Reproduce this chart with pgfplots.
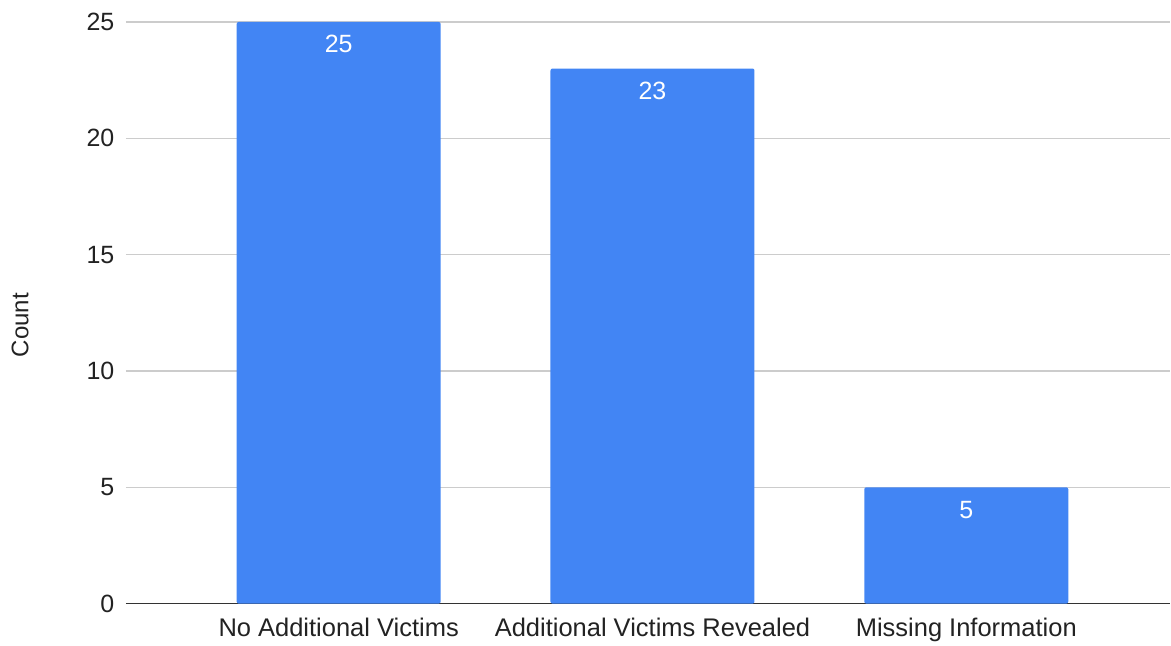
\documentclass[border=0pt]{standalone}
\usepackage{fontspec}
\setmainfont{Liberation Sans}
\usepackage{pgfplots}
\pgfplotsset{compat=1.18}
\definecolor{barblue}{HTML}{4285F4}
\definecolor{gridgray}{HTML}{CCCCCC}
\definecolor{axisgray}{HTML}{333333}
\definecolor{textgray}{HTML}{222222}
\begin{document}
\begin{tikzpicture}
\begin{axis}[
  scale only axis, width=1045pt, height=582pt,
  at={(0,0)}, anchor=south west,
  xmin=-0.678, xmax=2.65, ymin=0, ymax=25,
  ytick={0,5,...,25}, xtick={0,1,2},
  xticklabels={No Additional Victims, Additional Victims Revealed, Missing Information},
  ymajorgrids, grid style={gridgray, line width=1.2pt},
  axis x line*=bottom, axis y line*=left,
  y axis line style={draw=none},
  x axis line style={axisgray, line width=1.5pt},
  major tick length=0pt,
  /pgf/number format/assume math mode=true,
  yticklabel style={font=\fontsize{25}{29}\selectfont, text=textgray, xshift=-8pt},
  xticklabel style={font=\fontsize{25.5}{29}\selectfont, text=textgray, yshift=-11pt},
  ylabel={Count},
  ylabel style={font=\fontsize{24}{28}\selectfont, text=textgray, at={(axis description cs:-0.1014,0.479)}, anchor=center, rotate=0},
  ybar, bar width=0.65,
  nodes near coords,
  nodes near coords style={text=white, anchor=north, yshift=-10pt, font=\fontsize{25}{29}\selectfont},
  clip=false,
]
\addplot[fill=barblue, draw=none, rounded corners=2pt] coordinates {(0,25) (1,23) (2,5)};
\end{axis}
\path[use as bounding box] (-126pt,-41pt) rectangle (1045pt,604pt);
\end{tikzpicture}
\end{document}
